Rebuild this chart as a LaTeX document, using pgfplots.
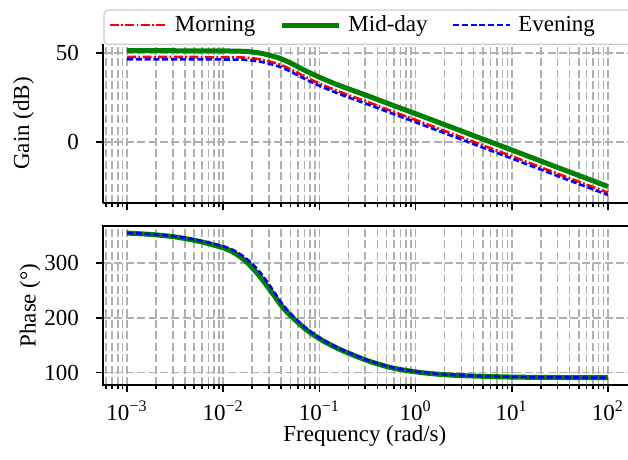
\documentclass[border=0pt]{standalone}
\usepackage{fontspec}
\setmainfont{Liberation Serif}
\usepackage{pgfplots}
\pgfplotsset{compat=1.18}

\definecolor{mred}{RGB}{255,0,0}
\definecolor{mgreen}{RGB}{0,128,0}
\definecolor{mblue}{RGB}{0,0,255}
\definecolor{gridc}{RGB}{176,176,176}
\definecolor{legc}{RGB}{204,204,204}

\tikzset{
  morn/.style={mred, line width=1.3pt, dash pattern=on 4.5pt off 1.2pt on 0.9pt off 1.2pt},
  mid/.style={mgreen, line width=2.5pt},
  eve/.style={mblue, line width=1.3pt, dash pattern=on 3pt off 1.4pt},
}

\begin{document}
\begin{tikzpicture}[font=\fontsize{11.5}{13.8}\selectfont]
\useasboundingbox (0,0) rectangle (314pt,230pt);

% gain
\begin{axis}[xmode=log, at={(51.5pt,128.5pt)}, anchor=south west,
  scale only axis, width=264.5pt, height=79.5pt,
  xmin=5.6234e-4, xmax=177.83,
  grid=both,
  major grid style={gridc, line width=0.8pt, dash pattern=on 4pt off 1.7pt},
  minor grid style={gridc, line width=0.8pt, dash pattern=on 4pt off 1.7pt},
  tick align=outside, xtick pos=left, ytick pos=left,
  major tick length=3.5pt, minor tick length=2pt,
  tick style={black, line width=0.8pt},
  axis line style={line width=1pt},
  axis x line*=bottom, axis y line*=left, clip=false,
  /pgf/number format/assume math mode=true,
  yticklabel style={xshift=-5pt},
  ymin=-34.3, ymax=55.1, ytick={0,50}, xticklabels={},
  ylabel={Gain (dB)},
  ylabel style={at={(axis description cs:-0.150,0.5)}, anchor=center},
  legend columns=3,
  legend style={draw=none, fill=none, at={(rel axis cs:-0.0227,1.119)}, anchor=west,
    inner xsep=0pt, inner ysep=0pt, nodes={inner sep=0pt}, column sep=3.5pt},
  legend image code/.code={\path (-8.5pt,0pt); \draw[#1] (0pt,0pt) -- (28.5pt,0pt);},
]
\draw[legc, line width=0.6pt, fill=white, rounded corners=2pt]
  (rel axis cs:0.002,0.998) rectangle (rel axis cs:1.05,1.214);
\addplot[morn, smooth] coordinates {
(0.001,47.8) (0.0031623,47.8) (0.01,47.7) (0.015849,47.5) (0.019953,47.1)
(0.025119,46.3) (0.031623,45.0) (0.039811,43.3) (0.050119,40.9) (0.063096,38.1)
(0.079433,35.4) (0.1,32.9) (0.12589,30.6) (0.17783,27.4) (0.31623,22.5)
(0.56234,17.4) (1,12.4) (3.1623,2.2) (10,-8.0) (31.623,-18.3) (100,-28.5)};
\addlegendentry{Morning}
\addplot[mid, smooth] coordinates {
(0.001,51.3) (0.0031623,51.3) (0.01,51.2) (0.015849,51.0) (0.019953,50.6)
(0.025119,49.8) (0.031623,48.5) (0.039811,46.8) (0.050119,44.4) (0.063096,41.6)
(0.079433,38.9) (0.1,36.4) (0.12589,34.1) (0.17783,30.9) (0.31623,26.0)
(0.56234,20.9) (1,15.9) (3.1623,5.7) (10,-4.5) (31.623,-14.8) (100,-25.0)};
\addlegendentry{Mid-day}
\addplot[eve, smooth] coordinates {
(0.001,46.5) (0.0031623,46.5) (0.01,46.4) (0.015849,46.2) (0.019953,45.8)
(0.025119,45.0) (0.031623,43.7) (0.039811,42.0) (0.050119,39.6) (0.063096,36.8)
(0.079433,34.1) (0.1,31.6) (0.12589,29.3) (0.17783,26.1) (0.31623,21.2)
(0.56234,16.1) (1,11.1) (3.1623,0.9) (10,-9.3) (31.623,-19.6) (100,-29.8)};
\addlegendentry{Evening}
\end{axis}

% phase
\begin{axis}[xmode=log, at={(51.5pt,37.5pt)}, anchor=south west,
  scale only axis, width=264.5pt, height=79.5pt,
  xmin=5.6234e-4, xmax=177.83,
  grid=both,
  major grid style={gridc, line width=0.8pt, dash pattern=on 4pt off 1.7pt},
  minor grid style={gridc, line width=0.8pt, dash pattern=on 4pt off 1.7pt},
  tick align=outside, xtick pos=left, ytick pos=left,
  major tick length=3.5pt, minor tick length=2pt,
  tick style={black, line width=0.8pt},
  axis line style={line width=1pt},
  /pgf/number format/assume math mode=true,
  yticklabel style={xshift=-5pt},
  xticklabel style={yshift=-1pt},
  ymin=77.5, ymax=368, ytick={100,200,300},
  ylabel={Phase (°)},
  ylabel style={at={(axis description cs:-0.138,0.5)}, anchor=center},
  xlabel={Frequency (rad/s)},
  xlabel style={at={(axis description cs:0.495,-0.32)}, anchor=center},
  xticklabel={\pgfmathtruncatemacro{\pw}{round(\tick/2.302585093)}10\textsuperscript{\ifnum\pw<0 −\the\numexpr-\pw\relax\else\pw\fi}},
]
\addplot[morn, smooth] coordinates {
(0.001,355.2) (0.0017783,352.7) (0.0031623,348.5) (0.0056234,340.7) (0.01,329.5)
(0.013335,320) (0.017783,304) (0.023714,281) (0.031623,251.5) (0.04217,220.5)
(0.056234,197.5) (0.074989,178.2) (0.1,163) (0.13335,150.7) (0.17783,140.2)
(0.31623,122.5) (0.56234,109.5) (1,101.7) (1.7783,97.2) (3.1623,94.7)
(10,92.1) (31.623,91.2) (100,90.8)};
\addplot[mid, smooth] coordinates {
(0.001,355) (0.0017783,352.5) (0.0031623,348) (0.0056234,340) (0.01,328)
(0.013335,318) (0.017783,301) (0.023714,277) (0.031623,248) (0.04217,218)
(0.056234,196) (0.074989,177) (0.1,162) (0.13335,150) (0.17783,139.5)
(0.31623,122) (0.56234,109) (1,101.5) (1.7783,97) (3.1623,94.5)
(10,92) (31.623,91.2) (100,90.8)};
\addplot[eve, smooth] coordinates {
(0.001,355.5) (0.0017783,353) (0.0031623,349) (0.0056234,341.5) (0.01,331)
(0.013335,322) (0.017783,307) (0.023714,285) (0.031623,255) (0.04217,223)
(0.056234,199) (0.074989,179.5) (0.1,164) (0.13335,151.5) (0.17783,141)
(0.31623,123) (0.56234,110) (1,102) (1.7783,97.5) (3.1623,95)
(10,92.2) (31.623,91.3) (100,90.9)};
\end{axis}
\end{tikzpicture}
\end{document}
